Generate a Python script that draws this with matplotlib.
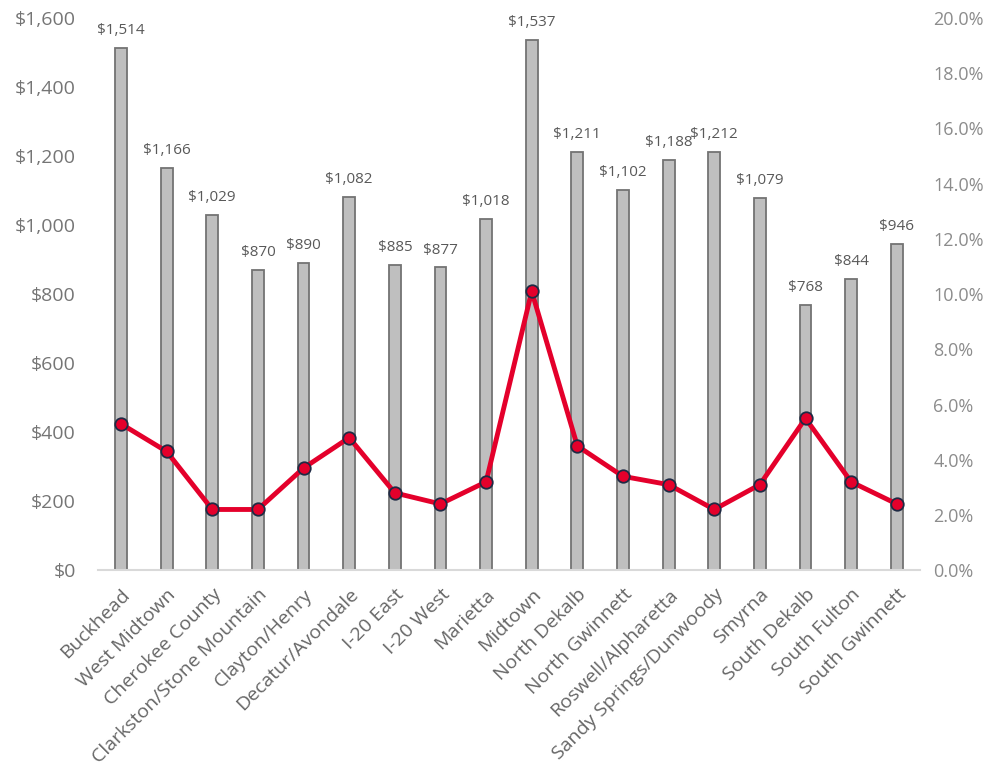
import numpy as np
import matplotlib
matplotlib.use("Agg")
import matplotlib.pyplot as plt
from matplotlib.ticker import FuncFormatter

plt.rcParams['font.family'] = ['Open Sans', 'DejaVu Sans']

areas = ["Buckhead", "West Midtown", "Cherokee County", "Clarkston/Stone Mountain",
         "Clayton/Henry", "Decatur/Avondale", "I-20 East", "I-20 West", "Marietta",
         "Midtown", "North Dekalb", "North Gwinnett", "Roswell/Alpharetta",
         "Sandy Springs/Dunwoody", "Smyrna", "South Dekalb", "South Fulton",
         "South Gwinnett"]
rent = [1514, 1166, 1029, 870, 890, 1082, 885, 877, 1018, 1537, 1211, 1102,
        1188, 1212, 1079, 768, 844, 946]
pct = [5.3, 4.3, 2.2, 2.2, 3.7, 4.8, 2.8, 2.4, 3.2, 10.1, 4.5, 3.4, 3.1,
       2.2, 3.1, 5.5, 3.2, 2.4]

x = np.arange(len(areas))

fig = plt.figure(figsize=(9.92, 7.79), dpi=100)
ax = fig.add_axes([0.099, 0.268, 0.828, 0.709])
ax2 = ax.twinx()

ax.bar(x, rent, width=0.26, color="#BFBFBF", edgecolor="#737373", linewidth=1.3, zorder=2)
for xi, v in zip(x, rent):
    ax.annotate("${:,}".format(v), (xi, v), xytext=(0, 7), textcoords="offset points",
                ha="center", va="bottom", fontsize=11, color="#595959")

ax2.plot(x, pct, color="#E4002B", linewidth=3.5, marker="o", markersize=9,
         markerfacecolor="#E4002B", markeredgecolor="#1F2A44", markeredgewidth=1.3, zorder=3)

ax.set_xlim(-0.5, len(areas) - 0.5)
ax.set_ylim(0, 1600)
ax.set_yticks(np.arange(0, 1601, 200))
ax.yaxis.set_major_formatter(FuncFormatter(lambda v, p: "${:,.0f}".format(v)))
ax2.set_ylim(0, 20)
ax2.set_yticks(np.arange(0, 20.1, 2))
ax2.yaxis.set_major_formatter(FuncFormatter(lambda v, p: "{:.1f}%".format(v)))

ax.set_xticks(x)
ax.set_xticklabels(areas, rotation=45, ha="right", rotation_mode="anchor",
                   fontsize=14, color="#666666")
ax.tick_params(axis="x", length=0, pad=11)
ax.tick_params(axis="y", length=0, labelsize=14, labelcolor="#757575", pad=16)
ax2.tick_params(axis="y", length=0, labelsize=13, labelcolor="#8C8C8C", pad=10)

for a in (ax, ax2):
    for s in a.spines.values():
        s.set_visible(False)
ax.spines["bottom"].set_visible(True)
ax.spines["bottom"].set_color("#D9D9D9")
ax.spines["bottom"].set_linewidth(1.5)

fig.savefig("out.png", dpi=100)
